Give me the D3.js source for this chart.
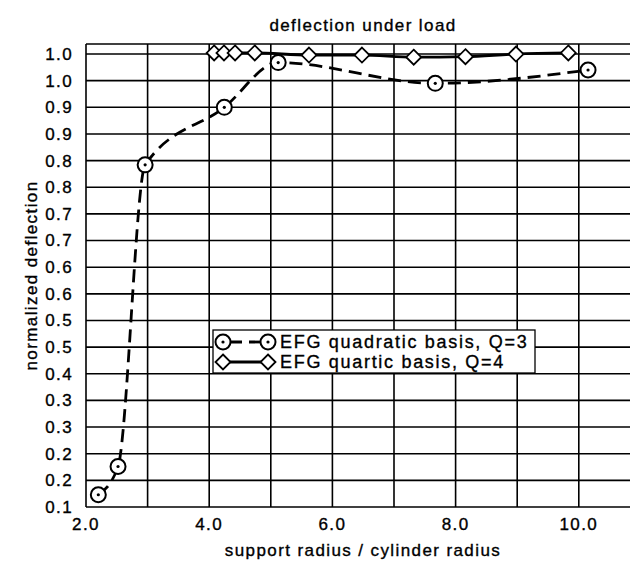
<!DOCTYPE html>
<html>
<head>
<meta charset="utf-8">
<script src="https://cdn.jsdelivr.net/npm/d3@7"></script>
<style>
  html, body { margin: 0; padding: 0; background: #fff; }
  svg text { font-family: "Liberation Sans", Arial, sans-serif; fill: #000; stroke: #000; stroke-width: 0.35px; }
</style>
</head>
<body>
<script>
// ---- data ----
const quadX = [2.2, 2.52, 2.96, 4.245, 5.12, 7.67, 10.15];
const quadY = [0.173, 0.226, 0.792, 0.900, 0.984, 0.945, 0.970];
const quartX = [4.08, 4.24, 4.42, 4.74, 5.62, 6.48, 7.32, 8.16, 8.98, 9.83];
const quartY = [1.002, 1.002, 1.002, 1.002, 0.998, 0.998, 0.994, 0.995, 1.0, 1.002];
const yTickValues = [0.15, 0.2, 0.25, 0.3, 0.35, 0.4, 0.45, 0.5, 0.55, 0.6, 0.65, 0.7, 0.75, 0.8, 0.85, 0.9, 0.95, 1.0];
const yTickLabels = ["0.1","0.2","0.2","0.3","0.3","0.4","0.5","0.5","0.6","0.6","0.7","0.7","0.8","0.8","0.9","0.9","1.0","1.0"];
const xGridValues = [2, 3, 4, 5, 6, 7, 8, 9, 10, 11];
const xTickValues = [2, 4, 6, 8, 10];
const xTickLabels = ["2.0", "4.0", "6.0", "8.0", "10.0"];
const seriesNames = ["EFG quadratic basis, Q=3", "EFG quartic basis, Q=4"];

// ---- layout ----
const W = 630, H = 564;
const svg = d3.select("body").append("svg").attr("width", W).attr("height", H);
const x = d3.scaleLinear().domain([2, 11]).range([86, 640.4]);
const y = d3.scaleLinear().domain([0.15, 1.0188]).range([507, 44]);

const fontCss = "font-size:17px;letter-spacing:1.4px;";
const legendCss = "font-size:18px;letter-spacing:1.7px;";

// grid
const g = svg.append("g");
g.selectAll("line.hg").data(yTickValues.concat([1.0188])).enter().append("line")
  .attr("x1", x(2)).attr("x2", x(11))
  .attr("y1", d => y(d)).attr("y2", d => y(d))
  .attr("stroke", "#000").attr("stroke-width", 1.6);
g.selectAll("line.vg").data(xGridValues).enter().append("line")
  .attr("x1", d => x(d)).attr("x2", d => x(d))
  .attr("y1", y(0.15)).attr("y2", y(1.0188))
  .attr("stroke", "#000").attr("stroke-width", 1.6);

// y tick labels
svg.selectAll("text.yt").data(yTickValues).enter().append("text")
  .attr("x", 73).attr("y", d => y(d)).attr("dy", "0.35em")
  .attr("text-anchor", "end").attr("style", fontCss)
  .text((d, i) => yTickLabels[i]);
// x tick labels
svg.selectAll("text.xt").data(xTickValues).enter().append("text")
  .attr("x", d => x(d)).attr("y", 530)
  .attr("text-anchor", "middle").attr("style", fontCss)
  .text((d, i) => xTickLabels[i]);

// titles
svg.append("text").attr("x", 363).attr("y", 31).attr("text-anchor", "middle")
  .attr("style", fontCss).text("deflection under load");
svg.append("text").attr("x", 363).attr("y", 556).attr("text-anchor", "middle")
  .attr("style", fontCss).text("support radius / cylinder radius");
svg.append("text").attr("transform", "translate(37," + ((44 + 507) / 2) + ") rotate(-90)")
  .attr("text-anchor", "middle").attr("style", fontCss).text("normalized deflection");

// series
const quad = quadX.map((v, i) => [v, quadY[i]]);
const quart = quartX.map((v, i) => [v, quartY[i]]);
const line = d3.line().x(d => x(d[0])).y(d => y(d[1])).curve(d3.curveMonotoneX);

svg.append("path").datum(quart).attr("d", line)
  .attr("fill", "none").attr("stroke", "#000").attr("stroke-width", 2.8);
svg.append("path").datum(quad).attr("d", line)
  .attr("fill", "none").attr("stroke", "#000").attr("stroke-width", 2.8)
  .attr("stroke-dasharray", "13,7");

function circleMarker(sel, cx, cy) {
  sel.append("circle").attr("cx", cx).attr("cy", cy).attr("r", 7.5)
    .attr("fill", "#fff").attr("stroke", "#000").attr("stroke-width", 2);
  sel.append("circle").attr("cx", cx).attr("cy", cy).attr("r", 1.6).attr("fill", "#000");
}
function diamondMarker(sel, cx, cy) {
  const s = 7.5;
  sel.append("path").attr("d", `M${cx},${cy - s}L${cx + s},${cy}L${cx},${cy + s}L${cx - s},${cy}Z`)
    .attr("fill", "#fff").attr("stroke", "#000").attr("stroke-width", 1.8);
}
const mk = svg.append("g");
quart.forEach(d => diamondMarker(mk, x(d[0]), y(d[1])));
quad.forEach(d => circleMarker(mk, x(d[0]), y(d[1])));

// legend
const lg = svg.append("g");
lg.append("rect").attr("x", 213).attr("y", 330).attr("width", 322).attr("height", 43)
  .attr("fill", "#fff").attr("stroke", "#000").attr("stroke-width", 1.3);
lg.append("line").attr("x1", 223).attr("x2", 268).attr("y1", 342).attr("y2", 342)
  .attr("stroke", "#000").attr("stroke-width", 2.8).attr("stroke-dasharray", "13,7").attr("stroke-dashoffset", -6);
circleMarker(lg, 223, 342); circleMarker(lg, 268, 342);
lg.append("line").attr("x1", 223).attr("x2", 268).attr("y1", 362).attr("y2", 362)
  .attr("stroke", "#000").attr("stroke-width", 2.8);
diamondMarker(lg, 223, 362); diamondMarker(lg, 268, 362);
lg.append("text").attr("x", 280).attr("y", 342).attr("dy", "0.35em").attr("style", legendCss).text(seriesNames[0]);
lg.append("text").attr("x", 280).attr("y", 362).attr("dy", "0.35em").attr("style", legendCss).text(seriesNames[1]);
</script>
</body>
</html>
